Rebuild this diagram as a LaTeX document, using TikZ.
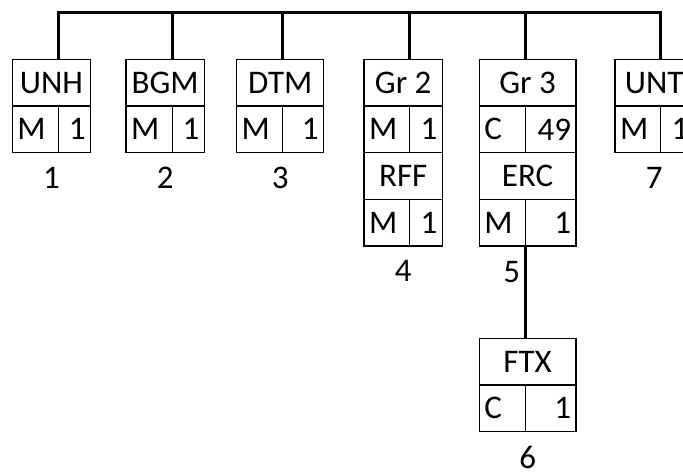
\documentclass[tikz,border=0pt]{standalone}
\usepackage{fontspec}
\setmainfont{Carlito}
\usetikzlibrary{calc}
\tikzset{
  cell/.style={draw, line width=1.3pt, inner sep=0pt, outer sep=0pt, minimum height=46.7pt,
    font=\fontsize{33}{33}\selectfont},
  txt/.style={inner sep=0pt, outer sep=0pt, font=\fontsize{33}{33}\selectfont},
  conn/.style={line width=3pt},
}
% #1 name, #2 x, #3 y, #4 total width, #5 left width, #6 head, #7 left, #8 right
\newcommand{\tbox}[8]{%
  \node[cell, anchor=north west, minimum width=#4pt] (#1h) at (#2,#3) {#6};
  \node[cell, anchor=north west, minimum width=#5pt] (#1l) at (#1h.south west) {};
  \node[cell, anchor=north west, minimum width=#4pt-#5pt] (#1r) at (#1l.north east) {};
  \node[txt, anchor=west] (#1lt) at ([xshift=5pt]#1l.west) {#7};
  \node[txt, anchor=east] (#1rt) at ([xshift=-5pt]#1r.east) {#8};
}
\begin{document}
\begin{tikzpicture}[x=1pt,y=-1pt]
\useasboundingbox (0,0) rectangle (683,474);
\coordinate (bus) at (0,12.3);
\tbox{b1}{12.3}{59.3}{78.4}{46}{UNH}{M}{1}
\tbox{b2}{126}{59.3}{78.4}{46.3}{BGM}{M}{1}
\tbox{b3}{236.7}{59.3}{87}{45.6}{DTM}{M}{1}
\tbox{b4}{364}{59.3}{78.4}{45.3}{Gr 2}{M}{1}
\tbox{b4b}{364}{152.7}{78.4}{45.3}{RFF}{M}{1}
\tbox{b5}{479.3}{59.3}{96.7}{46.4}{Gr 3}{C}{49}
\tbox{b5b}{479.3}{152.7}{96.7}{46.4}{ERC}{M}{1}
\tbox{b6}{479.3}{338.3}{96.7}{46.4}{FTX}{C}{1}
\tbox{b7}{615}{59.3}{78.4}{45.7}{UNT}{M}{1}
% connectors
\draw[conn] (b1l.east |- b1h.north) -- (b1l.east |- bus) -- (b7l.east |- bus) -- (b7l.east |- b7h.north);
\draw[conn] (b2l.east |- bus) -- (b2l.east |- b2h.north);
\draw[conn] (b3l.east |- bus) -- (b3l.east |- b3h.north);
\draw[conn] (b4l.east |- bus) -- (b4l.east |- b4h.north);
\draw[conn] (b5l.east |- bus) -- (b5l.east |- b5h.north);
\draw[conn] (b5bl.south east) -- (b6l.east |- b6h.north);
% numbers
\node[txt] (n1) at ($(b1l.south -| b1h.center)+(0,25.3)$) {1};
\node[txt] (n2) at ($(b2l.south -| b2h.center)+(0,25.3)$) {2};
\node[txt] (n3) at ($(b3l.south -| b3h.center)+(0,25.3)$) {3};
\node[txt] (n4) at ($(b4bl.south -| b4bh.center)+(0,25.3)$) {4};
\node[txt] (n5) at ($(b5bl.south east)+(-14,25.7)$) {5};
\node[txt] (n6) at ($(b6l.south -| b6h.center)+(0,25.3)$) {6};
\node[txt] (n7) at ($(b7l.south -| b7h.center)+(0,25.3)$) {7};
\end{tikzpicture}
\end{document}
